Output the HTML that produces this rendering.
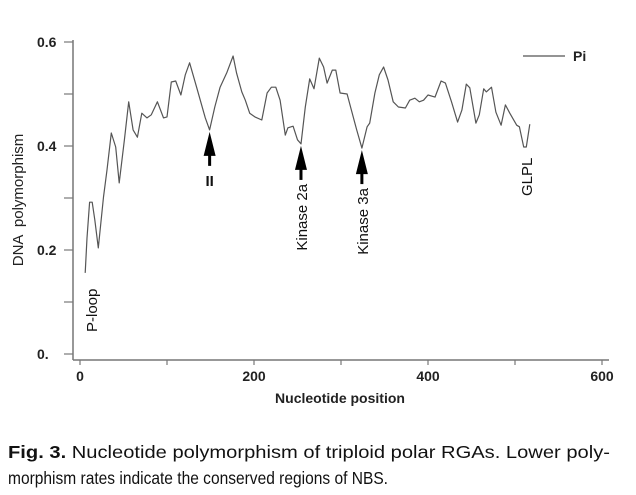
<!DOCTYPE html>
<html><head><meta charset="utf-8"><style>
html,body{margin:0;padding:0;background:#fff;}
svg{display:block;}
text{font-family:"Liberation Sans",sans-serif;}
</style></head><body>
<svg id="chart" width="636" height="495" viewBox="0 0 636 495" xmlns="http://www.w3.org/2000/svg">
<g id="axes"></g>
<g id="series"></g>
<g id="annot"></g>
<g>
  <line x1="523" y1="56" x2="565" y2="56" stroke="#555" stroke-width="1.3"/>
  <text x="573" y="61" font-size="14" font-weight="bold" fill="#222">Pi</text>
</g>
<text transform="translate(23,200) rotate(-90)" text-anchor="middle" font-size="15" fill="#222" xml:space="preserve">DNA  polymorphism</text>
<text x="340" y="403" text-anchor="middle" font-size="14" font-weight="bold" fill="#222">Nucleotide position</text>
<text x="8" y="458" font-size="17.5" fill="#111" textLength="602" lengthAdjust="spacingAndGlyphs"><tspan font-weight="bold">Fig. 3.</tspan> Nucleotide polymorphism of triploid polar RGAs. Lower poly-</text>
<text x="8" y="484" font-size="17.5" fill="#111" textLength="380" lengthAdjust="spacingAndGlyphs">morphism rates indicate the conserved regions of NBS.</text>
</svg>
<script>
const positions=[6,8,11,14,17,21,27,31,36,41,45,51,56,61,66,71,77,82,89,96,100,105,110,116,121,126,134,144,149,155,161,169,176,180,186,190,195,201,209,215,220,225,230,236,239,245,250,254,259,264,269,275,280,284,290,294,299,307,312,318,324,330,333,339,344,349,354,360,366,374,379,385,390,395,400,408,415,420,427,434,439,444,448,455,459,464,467,473,478,484,489,494,502,505,510,513,517];
const piValues=[0.156,0.223,0.292,0.292,0.258,0.204,0.302,0.354,0.425,0.398,0.329,0.412,0.485,0.431,0.417,0.463,0.454,0.460,0.485,0.454,0.456,0.523,0.525,0.498,0.537,0.560,0.513,0.454,0.431,0.475,0.513,0.542,0.573,0.540,0.504,0.488,0.463,0.456,0.450,0.502,0.513,0.513,0.488,0.421,0.435,0.438,0.412,0.404,0.475,0.529,0.510,0.569,0.552,0.521,0.546,0.546,0.502,0.500,0.469,0.431,0.396,0.437,0.444,0.502,0.537,0.552,0.527,0.485,0.475,0.473,0.488,0.492,0.485,0.488,0.498,0.494,0.525,0.521,0.485,0.446,0.469,0.519,0.512,0.444,0.460,0.510,0.504,0.513,0.465,0.440,0.479,0.463,0.440,0.437,0.398,0.398,0.442];
const xTicks=[0,100,200,300,400,500,600];
const xTickLabels=["0","","200","","400","","600"];
const yTicks=[0,0.1,0.2,0.3,0.4,0.5,0.6];
const yTickLabels=["0.","","0.2","","0.4","","0.6"];
const markers=[{label:"II",pos:149},{label:"Kinase 2a",pos:254},{label:"Kinase 3a",pos:324}];

const NS="http://www.w3.org/2000/svg";
const xs=v=>80+v*0.87;
const ys=v=>354-v*520;
function mk(tag,attrs,parent){const e=document.createElementNS(NS,tag);for(const k in attrs)e.setAttribute(k,attrs[k]);parent.appendChild(e);return e;}
const axes=document.getElementById('axes');
let a=mk('line',{x1:73,y1:360,x2:609,y2:360,stroke:'#777','stroke-width':1.5},axes);


a=mk('line',{x1:73,y1:40,x2:73,y2:360,stroke:'#777','stroke-width':1.5},axes);


xTicks.forEach((t,i)=>{
  const l=mk('line',{x1:xs(t),y1:360,x2:xs(t),y2:365,stroke:'#777','stroke-width':1.2},axes);
  
  
  if(xTickLabels[i]){
    const tx=mk('text',{x:xs(t),y:381,'text-anchor':'middle','font-size':14,'font-weight':'bold',fill:'#222'},axes);
    tx.textContent=xTickLabels[i];
    
    
  }
});
yTicks.forEach((t,i)=>{
  const l=mk('line',{x1:64,y1:ys(t),x2:73,y2:ys(t),stroke:'#777','stroke-width':1.2},axes);
  
  
  if(yTickLabels[i]){
    const tx=mk('text',{x:37,y:ys(t)+5,'font-size':14,'font-weight':'bold',fill:'#222'},axes);
    tx.textContent=yTickLabels[i];
    
    
  }
});
const series=document.getElementById('series');
const pts=positions.map((p,i)=>xs(p).toFixed(1)+','+ys(piValues[i]).toFixed(1)).join(' ');
const pl=mk('polyline',{points:pts,fill:'none',stroke:'#555','stroke-width':1.2,'stroke-linejoin':'round'},series);



const annot=document.getElementById('annot');
markers.forEach(m=>{
  const idx=positions.indexOf(m.pos);
  const x=xs(m.pos), tip=ys(piValues[idx])+2;
  const g=mk('g',{},annot);
  
  
  mk('polygon',{points:`${x},${tip} ${x-6},${tip+24} ${x+6},${tip+24}`,fill:'#000'},g);
  mk('rect',{x:x-1.5,y:tip+22,width:3,height:12,fill:'#000'},g);
  let tx;
  if(m.label==="II"){
    tx=mk('text',{x:x,y:tip+54,'text-anchor':'middle','font-size':15,'font-weight':'bold',fill:'#111'},g);
  } else {
    tx=mk('text',{transform:`translate(${x+6},${tip+38}) rotate(-90)`,'text-anchor':'end','font-size':15,fill:'#111'},g);
  }
  tx.textContent=m.label;
});
let t=mk('text',{transform:'translate(97,332) rotate(-90)','font-size':15,fill:'#111'},annot);
t.textContent='P-loop';


t=mk('text',{transform:'translate(532,196) rotate(-90)','font-size':15,fill:'#111'},annot);
t.textContent='GLPL';


</script>
</body></html>
